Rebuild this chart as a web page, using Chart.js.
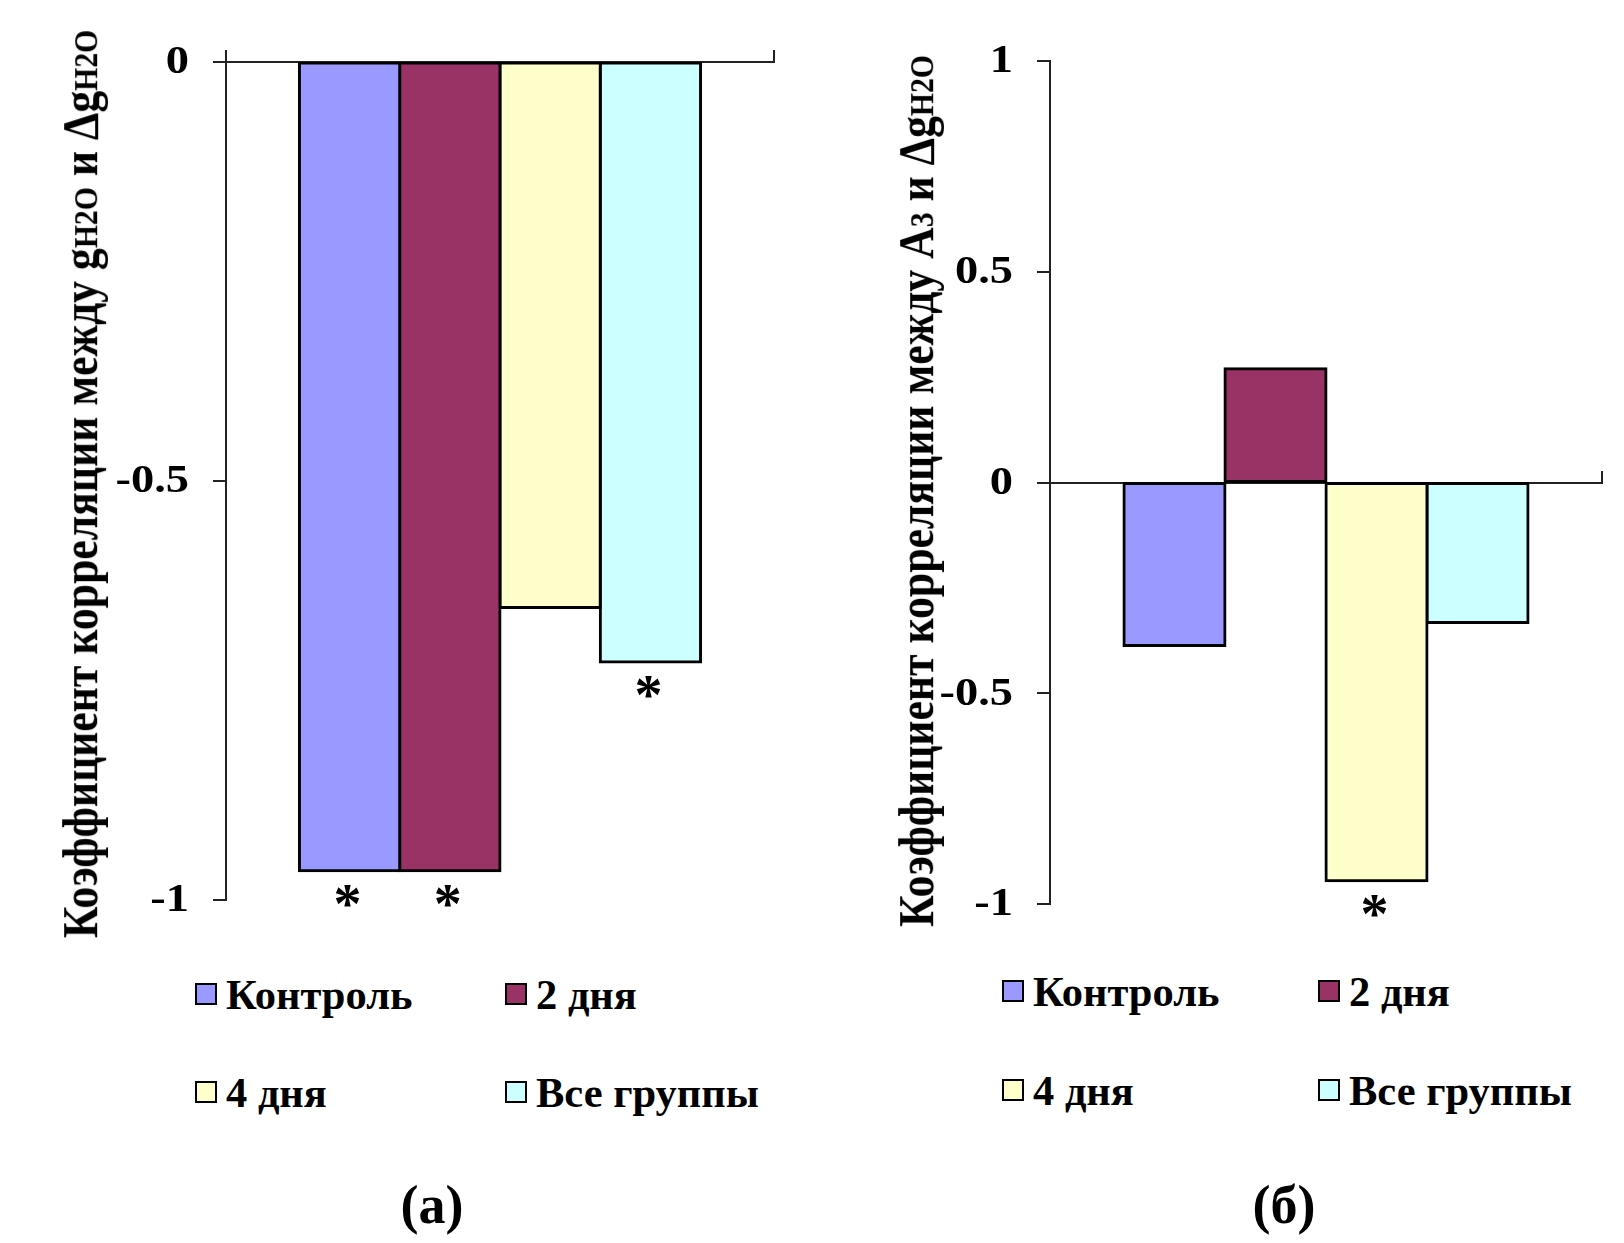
<!DOCTYPE html>
<html>
<head>
<meta charset="utf-8">
<title>Коэффициент корреляции</title>
<style>
  body { margin: 0; background: #fff; }
  #page { position: relative; width: 1624px; height: 1243px; overflow: hidden;
          font-family: "Liberation Serif", "Times New Roman", serif; font-weight: bold; color: #000; }
  .chart-box { position: absolute; top: 0; width: 812px; height: 960px; }
  .ytitle { position: absolute; white-space: nowrap; font-size: 43.7px; line-height: 1;
            transform: translate(-50%, -50%) rotate(-90deg) scaleY(1.16); }
  .ytitle sub { font-size: 68%; vertical-align: baseline; }
  .legend-item { position: absolute; height: 22px; display: flex; align-items: center;
                 font-size: 42.5px; white-space: nowrap; }
  .legend-item .box { width: 18px; height: 18px; border: 2px solid #000; margin-right: 9px; flex: none; }
  .caption { position: absolute; font-size: 54px; line-height: 1; transform: translate(-50%, -50%); }
</style>
</head>
<body>
<div id="page">
  <div class="chart-box" style="left:0"><canvas id="chartA" width="812" height="960"></canvas></div>
  <div class="chart-box" style="left:812px"><canvas id="chartB" width="812" height="960"></canvas></div>
  <div class="ytitle" style="left:81px; top:484px">Коэффициент корреляции между g<sub>H2O</sub> и Δg<sub>H2O</sub></div>
  <div class="ytitle" style="left:917px; top:491px">Коэффициент корреляции между A<sub>3</sub> и Δg<sub>H2O</sub></div>
  <div id="legendA"></div>
  <div id="legendB"></div>
  <div class="caption" style="left:432px; top:1205px">(а)</div>
  <div class="caption" style="left:1284px; top:1205px">(б)</div>
</div>
<script src="https://cdn.jsdelivr.net/npm/chart.js"></script>
<script>
  const groups = ['Контроль', '2 дня', '4 дня', 'Все группы'];
  const colors = ['#9999ff', '#993366', '#ffffcc', '#ccffff'];
  // (а) g_H2O и Δg_H2O
  const valuesA = [-0.965, -0.965, -0.651, -0.716];
  const starsA = [true, true, false, true];
  const ticksA = [0, -0.5, -1];
  // (б) A3 и Δg_H2O
  const valuesB = [-0.387, 0.27, -0.945, -0.332];
  const starsB = [false, false, true, false];
  const ticksB = [1, 0.5, 0, -0.5, -1];

  // подписи оси Y, чуть растянутые по ширине как в оригинале
  const yLabels = {
    id: 'yLabels',
    afterDraw(chart) {
      const y = chart.scales.y;
      const ctx = chart.ctx;
      ctx.save();
      ctx.font = 'bold 40px "Liberation Serif"';
      ctx.fillStyle = '#000';
      ctx.textAlign = 'right';
      ctx.textBaseline = 'middle';
      y.ticks.forEach(t => {
        ctx.save();
        ctx.translate(y.right - 37, y.getPixelForValue(t.value) + 1);
        ctx.scale(1.16, 1);
        ctx.fillText(String(t.value), 0, 0);
        ctx.restore();
      });
      ctx.restore();
    }
  };

  // звёздочки под значимыми столбцами
  const stars = {
    id: 'stars',
    afterDatasetsDraw(chart, args, opts) {
      const ctx = chart.ctx;
      ctx.save();
      ctx.font = 'bold 56px "Liberation Serif"';
      ctx.fillStyle = '#000';
      ctx.textAlign = 'center';
      ctx.textBaseline = 'alphabetic';
      chart.data.datasets.forEach((ds, i) => {
        if (!opts.marks[i]) return;
        const el = chart.getDatasetMeta(i).data[0];
        const bottom = Math.max(el.y, el.base);
        ctx.fillText('*', el.x - 2, bottom + 25 + 27);
      });
      ctx.restore();
    }
  };

  function makeChart(id, values, ticks, marks, pad) {
    return new Chart(document.getElementById(id), {
      type: 'bar',
      data: {
        labels: [''],
        datasets: groups.map((g, i) => ({
          label: g,
          data: [values[i]],
          backgroundColor: colors[i],
          borderColor: '#000',
          borderWidth: 3,
          borderSkipped: false,
          inflateAmount: 1.5,
          categoryPercentage: 0.732,
          barPercentage: 1
        }))
      },
      options: {
        responsive: false,
        animation: false,
        layout: { padding: pad },
        plugins: {
          legend: { display: false },
          tooltip: { enabled: false },
          stars: { marks: marks }
        },
        scales: {
          x: {
            position: { y: 0 },
            ticks: { display: false },
            grid: { drawOnChartArea: false, drawTicks: true, tickLength: -13, color: '#222', lineWidth: 2 },
            border: { display: true, color: '#222', width: 2 }
          },
          y: {
            min: Math.min(...ticks),
            max: Math.max(...ticks),
            afterBuildTicks: s => { s.ticks = ticks.map(v => ({ value: v })); },
            afterFit: s => { s.width = pad.axis; },
            ticks: { display: false },
            grid: { drawOnChartArea: false, drawTicks: true, tickLength: 13, color: '#222', lineWidth: 2 },
            border: { display: true, color: '#222', width: 2 }
          }
        }
      },
      plugins: [yLabels, stars]
    });
  }

  makeChart('chartA', valuesA, ticksA, starsA, { left: 0, top: 62, right: 38, bottom: 60, axis: 226 });
  makeChart('chartB', valuesB, ticksB, starsB, { left: 0, top: 61, right: 22, bottom: 56, axis: 238 });

  // легенда 2x2
  function makeLegend(id, cols, rows) {
    const box = document.getElementById(id);
    groups.forEach((g, i) => {
      const item = document.createElement('div');
      item.className = 'legend-item';
      item.style.left = cols[i % 2] + 'px';
      item.style.top = (rows[Math.floor(i / 2)] - 11) + 'px';
      item.innerHTML = `<span class="box" style="background:${colors[i]}"></span>${g}`;
      box.appendChild(item);
    });
  }
  makeLegend('legendA', [195, 505], [994, 1092]);
  makeLegend('legendB', [1002, 1318], [991, 1090]);
</script>
</body>
</html>
